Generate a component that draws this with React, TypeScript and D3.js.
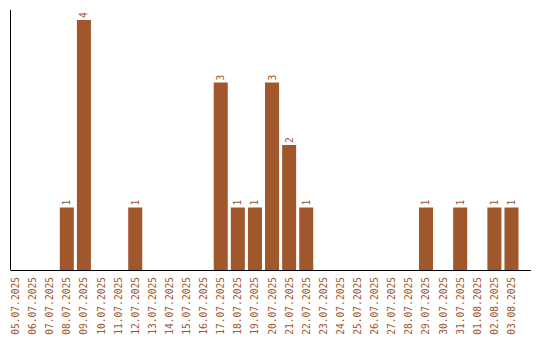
import React from "react";
import * as d3 from "d3";

const dates = [
  "05.07.2025", "06.07.2025", "07.07.2025", "08.07.2025", "09.07.2025",
  "10.07.2025", "11.07.2025", "12.07.2025", "13.07.2025", "14.07.2025",
  "15.07.2025", "16.07.2025", "17.07.2025", "18.07.2025", "19.07.2025",
  "20.07.2025", "21.07.2025", "22.07.2025", "23.07.2025", "24.07.2025",
  "25.07.2025", "26.07.2025", "27.07.2025", "28.07.2025", "29.07.2025",
  "30.07.2025", "31.07.2025", "01.08.2025", "02.08.2025", "03.08.2025",
];
const counts = [
  0, 0, 0, 1, 4,
  0, 0, 1, 0, 0,
  0, 0, 3, 1, 1,
  3, 2, 1, 0, 0,
  0, 0, 0, 0, 1,
  0, 1, 0, 1, 1,
];

const W = 540;
const H = 340;
const COLOR = "#a0572b";
const FONT = "'DejaVu Sans Mono', monospace";

export default function App() {
  const x = d3.scaleBand<string>().domain(dates).range([8.5, 518.5]).paddingInner(0.18).paddingOuter(0);
  const y = d3.scaleLinear().domain([0, 4]).range([270, 20]);
  const axisLeft = 10.5;
  const axisRight = 531;
  const baseY = 270;

  return (
    <svg width={W} height={H} style={{ position: "absolute", left: 0, top: 0 }}>
      {dates.map((d, i) => {
        const v = counts[i];
        if (!v) return null;
        const bx = x(d)!;
        const by = y(v);
        return (
          <g key={d}>
            <rect x={bx} y={by} width={x.bandwidth()} height={baseY - by} fill={COLOR} />
            <text
              transform={`translate(${bx + x.bandwidth() / 2 + 3.5},${by - 2}) rotate(-90)`}
              fontFamily={FONT}
              fontSize={9.6}
              fill={COLOR}
            >
              {v}
            </text>
          </g>
        );
      })}
      <line x1={axisLeft} x2={axisLeft} y1={10} y2={baseY} stroke="#000" strokeWidth={1} />
      <line x1={axisLeft} x2={axisRight} y1={baseY + 0.5} y2={baseY + 0.5} stroke="#000" strokeWidth={1} />
      {dates.map((d) => (
        <text
          key={d}
          transform={`translate(${x(d)! + x.bandwidth() / 2 + 3.5},${277}) rotate(-90)`}
          textAnchor="end"
          fontFamily={FONT}
          fontSize={9.6}
          fill={COLOR}
        >
          {d}
        </text>
      ))}
    </svg>
  );
}
